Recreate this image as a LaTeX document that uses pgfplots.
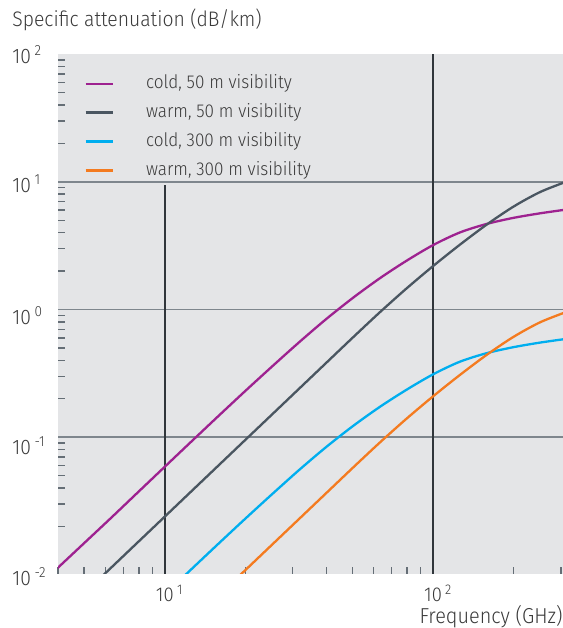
\documentclass[border=0pt]{standalone}
\usepackage{fontspec}
\setmainfont{Fira Sans Light}[FakeStretch=0.92]
\usepackage{pgfplots}
\pgfplotsset{compat=1.18}
\definecolor{bg}{RGB}{228,229,231}
\definecolor{gridh}{RGB}{126,134,141}
\definecolor{gridv}{RGB}{48,54,59}
\definecolor{tickc}{RGB}{101,110,118}
\definecolor{textcol}{RGB}{58,58,58}
\definecolor{cpurple}{RGB}{158,34,144}
\definecolor{cgray}{RGB}{74,86,97}
\definecolor{ccyan}{RGB}{0,174,239}
\definecolor{corange}{RGB}{244,123,32}
\pgfplotstableread{
f A
3.981 0.00944
5.012 0.01486
6.310 0.02339
7.943 0.03707
10 0.05875
12.589 0.09290
15.849 0.1466
19.953 0.2301
25.119 0.3581
31.623 0.5521
39.811 0.8356
50.119 1.227
63.096 1.746
79.433 2.399
100 3.192
125.89 4.009
158.49 4.677
199.53 5.218
251.19 5.668
316.23 6.073
}\coldfifty
\pgfplotstableread{
f A
5.012 0.006006
6.310 0.009517
7.943 0.01508
10 0.02390
12.589 0.03789
15.849 0.06005
19.953 0.09517
25.119 0.1508
31.623 0.2390
39.811 0.3789
50.119 0.6005
63.096 0.9441
79.433 1.454
100 2.186
125.89 3.214
158.49 4.619
199.53 6.390
251.19 8.327
316.23 10.07
}\warmfifty
\pgfplotstableread{
f A
10 0.00587
12.589 0.00929
15.849 0.01466
19.953 0.0230
25.119 0.0358
31.623 0.0552
39.811 0.0832
50.119 0.1216
63.096 0.1718
79.433 0.2344
100 0.3105
125.89 0.390
158.49 0.455
199.53 0.507
251.19 0.551
316.23 0.590
}\coldthree
\pgfplotstableread{
f A
15.849 0.005735
19.953 0.009089
25.119 0.01441
31.623 0.02283
39.811 0.03618
50.119 0.05735
63.096 0.09016
79.433 0.1389
100 0.2087
125.89 0.3069
158.49 0.4411
199.53 0.6103
251.19 0.7954
316.23 0.9616
}\warmthree
\begin{document}
\begin{tikzpicture}
\path[use as bounding box] (-29pt,-27pt) rectangle (252pt,286.5pt);
\begin{axis}[
  at={(0pt,0pt)}, anchor=south west,
  scale only axis, width=252pt, height=259.5pt,
  xmode=log, ymode=log,
  xmin=4, xmax=305, ymin=0.0085, ymax=100,
  axis background/.style={fill=bg},
  axis line style={draw=none},
  xtick={10,100},
  xticklabels={10\rlap{\,\textsuperscript{1}},10\rlap{\,\textsuperscript{2}}},
  ytick={0.01,0.1,1,10,100},
  yticklabels={\raisebox{-10.35pt}{10\,\textsuperscript{-2}},
               \raisebox{-8.65pt}{10\,\textsuperscript{-1}},
               \raisebox{-7.35pt}{10\,\textsuperscript{0}},
               \raisebox{-5.5pt}{10\,\textsuperscript{1}},
               \raisebox{-4.85pt}{10\,\textsuperscript{2}}},
  minor xtick={4,5,6,7,8,9,20,30,40,50,60,70,80,90,200,300},
  minor ytick={0.02,0.03,0.04,0.05,0.06,0.07,0.08,0.09,0.2,0.3,0.4,0.5,0.6,0.7,0.8,0.9,2,3,4,5,6,7,8,9,20,30,40,50,60,70,80,90},
  major tick length=0pt, minor tick length=3.4pt,
  tick align=inside, tick pos=left,
  minor tick style={color=tickc, line width=0.7pt},
  xticklabel style={anchor=base, inner sep=0pt, yshift=-13.85pt, font=\fontsize{10}{12}\selectfont, text=textcol},
  yticklabel style={anchor=base west, inner sep=0pt, xshift=-23pt, font=\fontsize{10.5}{12}\selectfont, text=textcol},
  legend style={at={(axis description cs:0,1)}, anchor=north west, xshift=13pt, yshift=-10.15pt,
    draw=none, fill=none, inner sep=0pt, row sep=5.4pt,
    font=\fontsize{9.3}{11}\selectfont, text=textcol,
    nodes={inner sep=0pt, text height=7pt, text depth=2pt},
    /tikz/every odd column/.append style={column sep=16pt}},
  legend cell align=left,
  legend image code/.code={\draw[#1, line width=1.2pt] (0pt,0pt) -- (13.5pt,0pt);},
]
\draw[gridh, line width=0.85pt] (axis cs:4,0.1) -- (axis cs:305,0.1);
\draw[gridh, line width=0.85pt] (axis cs:4,1) -- (axis cs:305,1);
\draw[gridh, line width=0.85pt] (axis cs:4,10) -- (axis cs:305,10);
\draw[gridv, line width=0.7pt] (axis cs:10,0.0085) -- (axis cs:10,9.5);
\draw[gridv, line width=0.7pt] (axis cs:100,0.0085) -- (axis cs:100,100);
\addplot[cpurple, line width=1.15pt, smooth] table[x=f,y=A] {\coldfifty};
\addplot[cgray, line width=1.15pt, smooth] table[x=f,y=A] {\warmfifty};
\addplot[ccyan, line width=1.15pt, smooth] table[x=f,y=A] {\coldthree};
\addplot[corange, line width=1.15pt, smooth] table[x=f,y=A] {\warmthree};
\legend{{cold, 50 m visibility}, {warm, 50 m visibility}, {cold, 300 m visibility}, {warm, 300 m visibility}}
\end{axis}
\node[anchor=base west, inner sep=0pt, font=\fontsize{10.5}{13}\selectfont, text=textcol] at (-23pt,273.2pt) {Specific attenuation (dB/km)};
\node[anchor=base east, inner sep=0pt, font=\fontsize{10.8}{13}\selectfont, text=textcol] at (252pt,-24.65pt) {Frequency (GHz)};
\end{tikzpicture}
\end{document}
